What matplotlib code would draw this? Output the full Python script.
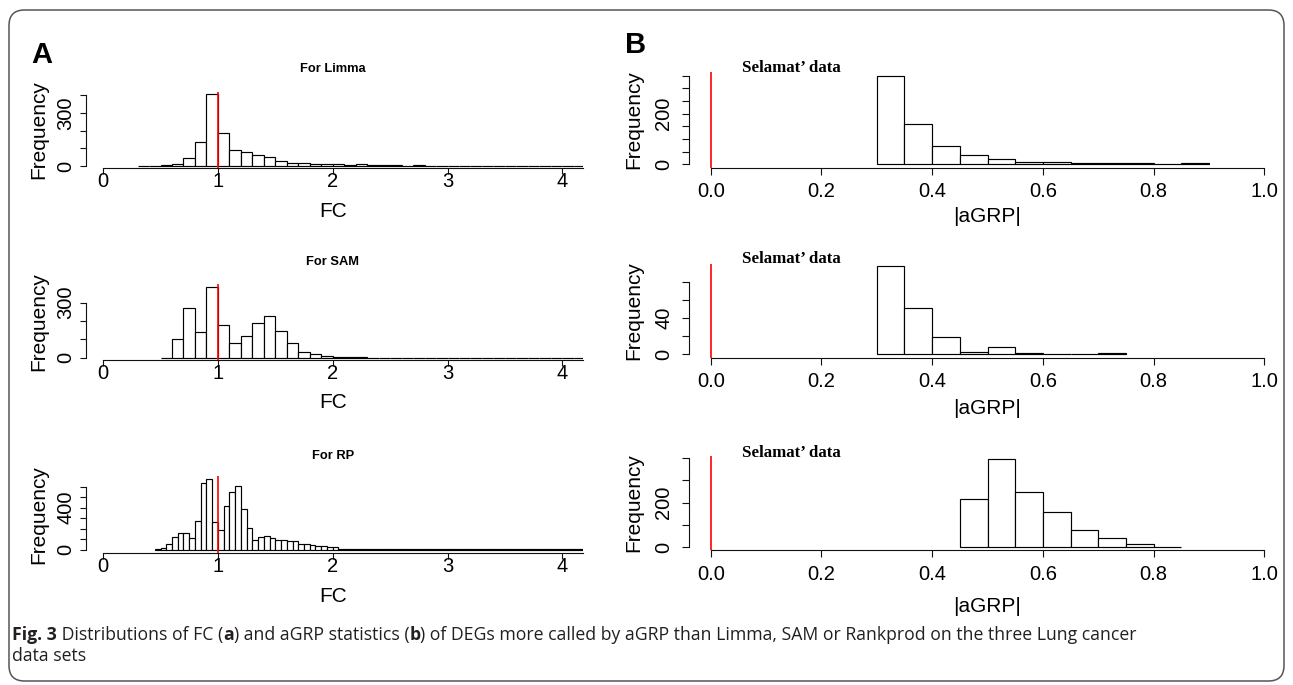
import numpy as np
import matplotlib
matplotlib.use("Agg")
import matplotlib.pyplot as plt
from matplotlib.patches import FancyBboxPatch
from matplotlib import font_manager

# ---------------- data ----------------
limma_start, limma_binw = 0.3, 0.1
limma_counts = [2, 2, 5, 11, 47, 136, 406, 185, 91, 79,
                62, 51, 30, 17, 17, 11, 11, 11, 6, 9,
                5, 5, 5, 2, 5, 2, 2, 1, 2, 1,
                1, 2, 1, 1, 1, 1, 2, 1, 1]

sam_start, sam_binw = 0.5, 0.1
sam_counts = [0, 100, 273, 140, 385, 180, 78, 118, 187, 229,
              145, 78, 33, 18, 12, 6, 2, 5, 1, 1,
              0, 1, 0, 1, 0, 0, 1, 0, 1, 0,
              0, 1, 0, 0, 1, 0, 1]

rp_start, rp_binw = 0.45, 0.05
rp_counts = [6, 13, 54, 115, 160, 160, 112, 268, 638, 676,
             262, 182, 421, 552, 612, 383, 207, 89, 115, 128,
             112, 93, 90, 83, 77, 57, 54, 45, 35, 30,
             25, 22, 8, 7, 6, 6, 5, 5, 4, 4,
             3, 3, 2, 2, 2, 2, 2, 2, 2, 2,
             2, 2, 2, 2, 2, 2, 2, 2, 2, 2,
             2, 2, 2, 2, 2, 2, 2, 2, 2, 2,
             2, 2, 2, 2, 2]

b1_start, b1_binw = 0.30, 0.05
b1_counts = [350, 160, 71, 38, 20, 9, 9, 4, 4, 4, 0, 4]
b2_start, b2_binw = 0.30, 0.05
b2_counts = [98, 51, 19, 3, 8, 1, 0, 0, 1]
b3_start, b3_binw = 0.45, 0.05
b3_counts = [216, 394, 246, 158, 79, 40, 13, 3]

fc_ticks = [0, 1, 2, 3, 4]
agrp_ticks = [0.0, 0.2, 0.4, 0.6, 0.8, 1.0]
agrp_ticklabels = ["0.0", "0.2", "0.4", "0.6", "0.8", "1.0"]

a_titles = ["For Limma", "For SAM", "For RP"]
b_title = "Selamat\u2019 data"
ref_line_a = 1.0
ref_line_b = 0.0

# ---------------- figure ----------------
W, H, DPI = 1293, 685, 100
fig = plt.figure(figsize=(W / DPI, H / DPI), dpi=DPI)
fig.patch.set_facecolor("white")
renderer = fig.canvas.get_renderer()

SANS = "Liberation Sans"
SERIF = "Liberation Serif"
PT = 0.72  # points per pixel


def fx(px):
    return px / W


def fy(py):
    return 1 - py / H


def make_axes(left, right, bottom, top, x0, xs, y0, ys):
    ax = fig.add_axes([fx(left), fy(bottom), fx(right) - fx(left), fy(top) - fy(bottom)])
    ax.set_xlim((left - x0) / xs, (right - x0) / xs)
    ax.set_ylim((y0 - bottom) / ys, (y0 - top) / ys)
    ax.patch.set_alpha(0)
    for s in ["top", "right"]:
        ax.spines[s].set_visible(False)
    for s in ["left", "bottom"]:
        ax.spines[s].set_linewidth(0.8)
        ax.spines[s].set_color("#111111")
    return ax


def draw_hist(ax, start, binw, counts):
    edges = start + binw * np.arange(len(counts))
    ax.bar(edges, counts, width=binw, align="edge", color="white",
           edgecolor="black", linewidth=0.85, zorder=2)


# ---- panel A ----
A_left, A_right, A_x0, A_xs = 86.0, 582.7, 103.1, 114.8
A_rows = [
    # bottom, top, y0, ys, yticks, labels shown, title y, xlabel y, hist
    (168.0, 91.7, 166.0, 0.1767, [0, 100, 200, 300, 400], [0, 300], 69.0, 212.0,
     limma_start, limma_binw, limma_counts),
    (360.0, 283.7, 357.7, 0.1833, [0, 100, 200, 300], [0, 300], 262.3, 403.0,
     sam_start, sam_binw, sam_counts),
    (552.7, 475.7, 549.5, 0.1045, [0, 100, 200, 300, 400, 500, 600], [0, 400], 456.0, 597.0,
     rp_start, rp_binw, rp_counts),
]
for (bottom, top, y0, ys, yt, ysh, ty, xly, st, bw, cnt), title in zip(A_rows, a_titles):
    ax = make_axes(A_left, A_right, bottom, top, A_x0, A_xs, y0, ys)
    draw_hist(ax, st, bw, cnt)
    ax.axvline(ref_line_a, color="#ff0000", lw=1.2, zorder=3)
    xmax = ax.get_xlim()[1]
    ax.set_xticks(fc_ticks, [str(t) for t in fc_ticks], va="center", fontfamily=SANS, fontsize=14.5)
    ax.tick_params(axis="x", length=5.5 * PT, width=0.8, color="#111111", pad=(13.5 - 5.5) * PT)
    ylabs = [(str(t) if t in ysh else "") for t in yt]
    ax.set_yticks(yt, ylabs, rotation=90, ha="center", va="center", fontfamily=SANS, fontsize=14.5)
    ax.tick_params(axis="y", length=6.0 * PT, width=0.8, color="#111111", pad=(20 - 6.0) * PT)
    ax.spines["bottom"].set_bounds(0, xmax)
    ax.spines["left"].set_bounds(yt[0], yt[-1])
    ax.set_ylabel("Frequency", fontfamily=SANS, fontsize=15)
    ax.yaxis.set_label_coords(fx(39), fy((bottom + top) / 2), transform=fig.transFigure)
    ax.yaxis.label.set_va("center")
    ax.set_xlabel("FC", fontfamily=SANS, fontsize=15)
    ax.xaxis.set_label_coords(fx(A_x0 + 2.0 * A_xs), fy(xly), transform=fig.transFigure)
    ax.xaxis.label.set_va("center")
    fig.text(fx(A_x0 + 2.0 * A_xs), fy(ty), title, ha="center", va="center",
             fontfamily=SANS, fontweight="bold", fontsize=9.3)

# ---- panel B ----
B_left, B_right, B_x0, B_xs = 689.0, 1286.0, 710.7, 553.7
B_rows = [
    (167.7, 71.7, 164.3, 0.2533, [0, 50, 100, 150, 200, 250, 300, 350], [0, 200], 67.7, 216.0,
     b1_start, b1_binw, b1_counts),
    (357.7, 264.3, 354.3, 0.9, [0, 20, 40, 60, 80], [0, 40], 259.3, 408.0,
     b2_start, b2_binw, b2_counts),
    (550.3, 455.7, 547.3, 0.2233, [0, 100, 200, 300, 400], [0, 200], 453.3, 607.0,
     b3_start, b3_binw, b3_counts),
]
for (bottom, top, y0, ys, yt, ysh, ty, xly, st, bw, cnt) in B_rows:
    ax = make_axes(B_left, B_right, bottom, top, B_x0, B_xs, y0, ys)
    draw_hist(ax, st, bw, cnt)
    ax.axvline(ref_line_b, color="#ff0000", lw=1.2, zorder=3)
    ax.set_xticks(agrp_ticks, agrp_ticklabels, va="center", fontfamily=SANS, fontsize=14.5)
    ax.tick_params(axis="x", length=7.0 * PT, width=0.8, color="#111111", pad=(24 - 7.0) * PT)
    ylabs = [(str(t) if t in ysh else "") for t in yt]
    ax.set_yticks(yt, ylabs, rotation=90, ha="center", va="center", fontfamily=SANS, fontsize=14.5)
    ax.tick_params(axis="y", length=7.0 * PT, width=0.8, color="#111111", pad=(B_left - 7.0 - 664) * PT)
    ax.spines["bottom"].set_bounds(agrp_ticks[0], agrp_ticks[-1])
    ax.spines["left"].set_bounds(yt[0], yt[-1])
    ax.set_ylabel("Frequency", fontfamily=SANS, fontsize=15)
    ax.yaxis.set_label_coords(fx(634), fy((bottom + top) / 2), transform=fig.transFigure)
    ax.yaxis.label.set_va("center")
    ax.set_xlabel("|aGRP|", fontfamily=SANS, fontsize=15)
    ax.xaxis.set_label_coords(fx(B_x0 + 0.5 * B_xs), fy(xly), transform=fig.transFigure)
    ax.xaxis.label.set_va("center")
    t = fig.text(fx(791), fy(ty), b_title, ha="center", va="center",
                 fontfamily=SERIF, fontweight="bold", fontsize=11)
    w = t.get_window_extent(renderer).width
    t.set_fontsize(11 * 99.0 / w)

# panel letters
fig.text(fx(41.7), fy(55), "A", ha="center", va="center", fontfamily=SANS,
         fontweight="bold", fontsize=21)
fig.text(fx(636), fy(45), "B", ha="center", va="center", fontfamily=SANS,
         fontweight="bold", fontsize=21)

# border
box = FancyBboxPatch((fx(9), fy(681)), fx(1284) - fx(9), fy(10) - fy(681),
                     boxstyle="round,pad=0,rounding_size=0.012",
                     transform=fig.transFigure, fill=False, edgecolor="#555555",
                     linewidth=1.1, mutation_aspect=W / H)
fig.patches.append(box)

# caption
names = {f.name for f in font_manager.fontManager.ttflist}
cap_font = next((n for n in ["Liberation Sans Narrow", "Open Sans", "Liberation Sans"] if n in names),
                "DejaVu Sans")
line1 = [("Fig. 3", "bold"), (" Distributions of FC (", "normal"), ("a", "bold"),
         (") and aGRP statistics (", "normal"), ("b", "bold"),
         (") of DEGs more called by aGRP than Limma, SAM or Rankprod on the three Lung cancer", "normal")]
line2 = [("data sets", "normal")]
CAP_COLOR = "#231f20"


def place_runs(runs, x_px, y_px, fs):
    objs = []
    x = x_px
    for txt, wt in runs:
        t = fig.text(fx(x), fy(y_px), txt, ha="left", va="baseline", fontfamily=cap_font,
                     fontweight=wt, fontsize=fs, color=CAP_COLOR)
        objs.append(t)
        x += t.get_window_extent(renderer).width
    return objs, x - x_px


fs0 = 14.0
objs, width = place_runs(line1, 12, 640, fs0)
for o in objs:
    o.remove()
fs = fs0 * (1140 - 12) / width
place_runs(line1, 12, 640, fs)
place_runs(line2, 12, 661, fs)

fig.savefig("out.png", dpi=DPI, facecolor="white")
